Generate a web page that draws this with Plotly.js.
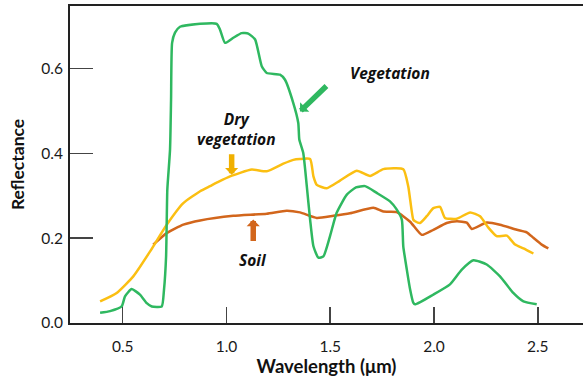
<!DOCTYPE html>
<html><head><meta charset="utf-8">
<script src="https://cdn.plot.ly/plotly-3.0.1.min.js"></script>
<style>html,body{margin:0;padding:0;background:#fff}#chart{width:583px;height:381px}</style>
</head><body><div id="chart"></div>
<script>
// Vegetation (green)
const vegX = [0.391,0.439,0.495,0.511,0.543,0.583,0.616,0.640,0.688,0.699,0.709,0.712,0.715,0.728,0.733,0.738,0.752,0.776,0.873,0.953,0.969,0.993,1.033,1.073,1.105,1.138,1.170,1.194,1.258,1.282,1.322,1.346,1.351,1.370,1.387,1.403,1.419,1.443,1.467,1.499,1.531,1.580,1.624,1.668,1.724,1.788,1.820,1.845,1.852,1.869,1.885,1.900,1.909,1.997,2.077,2.134,2.190,2.254,2.318,2.382,2.431,2.495];
const vegY = [0.024,0.028,0.039,0.063,0.080,0.067,0.047,0.039,0.039,0.079,0.157,0.237,0.315,0.409,0.527,0.661,0.685,0.699,0.706,0.706,0.692,0.661,0.673,0.684,0.683,0.669,0.606,0.590,0.586,0.574,0.519,0.472,0.433,0.401,0.323,0.244,0.181,0.154,0.157,0.205,0.260,0.303,0.320,0.323,0.307,0.287,0.268,0.244,0.181,0.126,0.079,0.048,0.044,0.067,0.091,0.126,0.148,0.138,0.110,0.071,0.051,0.044];
// Dry vegetation (yellow)
const dryX = [0.391,0.471,0.551,0.632,0.712,0.792,0.873,0.921,0.953,1.017,1.122,1.194,1.274,1.322,1.354,1.403,1.419,1.435,1.483,1.547,1.628,1.692,1.756,1.852,1.876,1.900,1.909,1.933,1.965,1.997,2.029,2.053,2.110,2.174,2.222,2.262,2.302,2.351,2.391,2.431,2.479];
const dryY = [0.051,0.071,0.110,0.169,0.232,0.283,0.311,0.323,0.331,0.346,0.362,0.358,0.376,0.385,0.387,0.387,0.346,0.326,0.318,0.336,0.359,0.347,0.363,0.363,0.322,0.244,0.240,0.236,0.252,0.271,0.274,0.248,0.246,0.261,0.252,0.225,0.205,0.206,0.185,0.176,0.164];
// Soil (orange)
const soilX = [0.647,0.712,0.792,0.873,1.033,1.194,1.290,1.354,1.435,1.515,1.595,1.708,1.756,1.820,1.885,1.941,1.997,2.061,2.110,2.158,2.182,2.254,2.318,2.399,2.447,2.479,2.519,2.551];
const soilY = [0.185,0.212,0.232,0.242,0.253,0.258,0.265,0.261,0.248,0.253,0.259,0.272,0.263,0.262,0.239,0.208,0.220,0.236,0.240,0.237,0.222,0.237,0.232,0.220,0.214,0.201,0.185,0.176];
const xTicks = [0.5,1.0,1.5,2.0,2.5];
const xTickText = ['0.5','1.0','1.5','2.0','2.5'];
const yTicks = [0.0,0.2,0.4,0.6];
const yTickText = ['0.0','0.2','0.4','0.6'];

const GREEN = '#2fb860', YELLOW = '#fbbf12', ORANGE = '#d2661c';
const line = (x,y,c) => ({x, y, type:'scatter', mode:'lines', line:{color:c, width:2.5, shape:'spline', smoothing:0.5}, hoverinfo:'skip'});
const data = [line(soilX,soilY,ORANGE), line(dryX,dryY,YELLOW), line(vegX,vegY,GREEN)];

const lblFont = {family:'"Open Sans", Lato, sans-serif', size:15.5, color:'#111', weight:'bold', style:'italic'};
const arrow = (x,y,ax,ay,c) => ({x, y, xref:'x', yref:'y', text:'', showarrow:true, ax, ay, arrowcolor:c, arrowwidth:5.5, arrowhead:1, arrowsize:0.4, standoff:0});
const layout = {
  width:583, height:381,
  margin:{l:70, r:0, t:6, b:58},
  paper_bgcolor:'#fff', plot_bgcolor:'#fff',
  showlegend:false,
  font:{family:'Lato, "Open Sans", sans-serif', color:'#1a1a1a'},
  xaxis:{range:[0.246,2.718], tickvals:xTicks, ticktext:xTickText, ticks:'inside', ticklen:16, tickwidth:1.5, tickcolor:'#444',
         showline:true, mirror:true, linecolor:'#222', linewidth:2, showgrid:false, zeroline:false,
         tickfont:{size:15.5, color:'#1a1a1a'}, ticklabelstandoff:8,
         title:{text:'Wavelength (\u03bcm)', font:{size:18.5, color:'#111', weight:'bold'}, standoff:6}, fixedrange:true},
  yaxis:{range:[0,0.748], tickvals:yTicks, ticktext:yTickText, ticks:'inside', ticklen:23, tickwidth:1.5, tickcolor:'#444',
         showline:true, linecolor:'#222', linewidth:2, showgrid:false, zeroline:false,
         tickfont:{size:15.5, color:'#1a1a1a'}, ticklabelstandoff:2,
         title:{text:'Reflectance', font:{size:17.5, color:'#111', weight:'bold'}, standoff:12}, fixedrange:true},
  annotations:[
    {x:1.788, y:0.590, xref:'x', yref:'y', text:'Vegetation', showarrow:false, font:lblFont},
    {x:1.046, y:0.457, xref:'x', yref:'y', text:'Dry<br>vegetation', showarrow:false, font:lblFont},
    {x:1.129, y:0.149, xref:'x', yref:'y', text:'Soil', showarrow:false, font:lblFont},
    arrow(1.354, 0.499, 28, -27, GREEN),
    arrow(1.025, 0.350, 0, -22, '#f0b000'),
    arrow(1.129, 0.244, 0, 23, ORANGE)
  ]
};
Plotly.newPlot('chart', data, layout, {staticPlot:true, displayModeBar:false});
</script></body></html>
